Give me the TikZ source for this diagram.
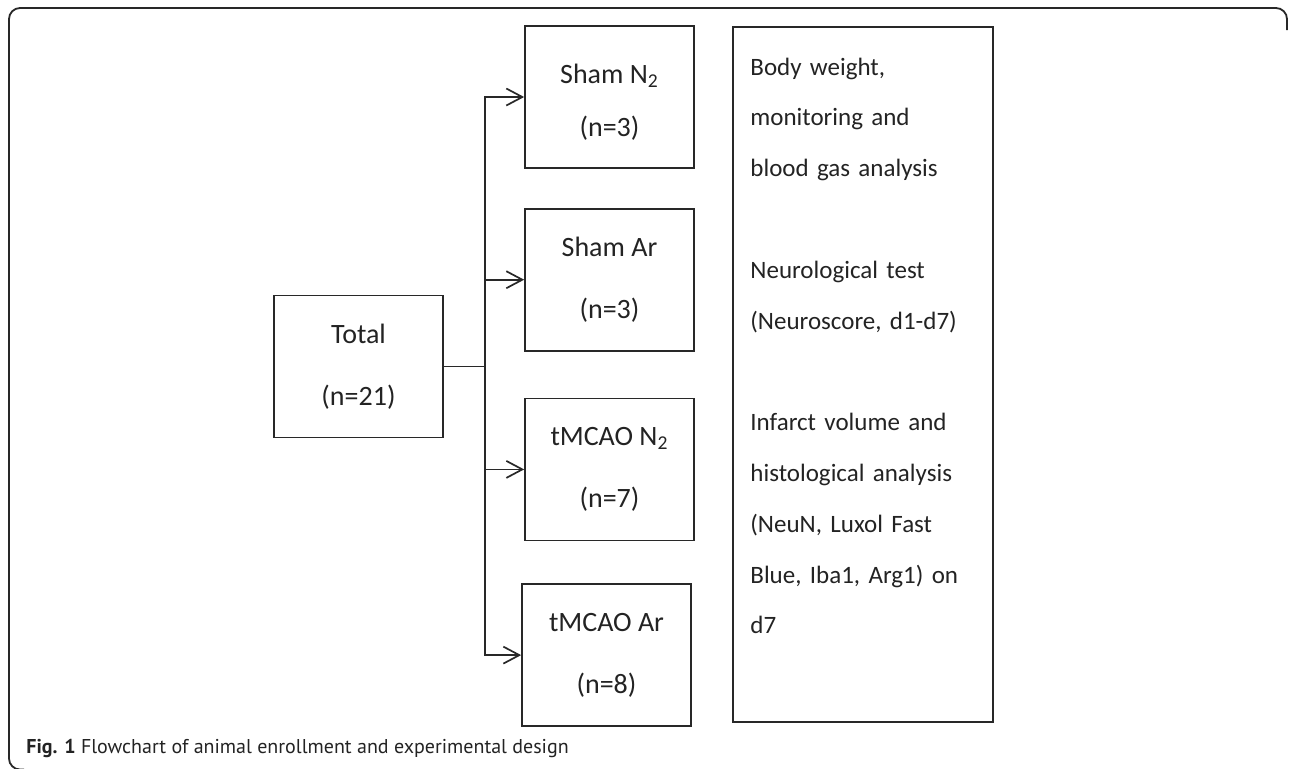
\documentclass[tikz,border=0pt]{standalone}
\usepackage{fontspec}
\setmainfont{Carlito}
\newfontfamily\capfont{PT Sans}
\usetikzlibrary{arrows.meta, positioning}
\definecolor{linegray}{RGB}{40,40,40}
\definecolor{textgray}{RGB}{35,35,35}

\begin{document}
\begin{tikzpicture}[x=0.5pt, y=-0.5pt,
    box/.style={draw=linegray, line width=0.85pt, minimum width=84.5pt, minimum height=71pt,
                inner sep=0pt, align=center, text=textgray, font=\fontsize{14}{31}\selectfont},
    panel/.style={draw=linegray, line width=0.85pt, minimum width=130pt, minimum height=347.5pt,
                  inner sep=0pt},
    arrow/.style={-{Straight Barb[length=8pt, width=8.5pt]}, line width=0.85pt, draw=linegray},
    frame/.style={draw=linegray, line width=0.9pt, rounded corners=5.5pt}
  ]
  \useasboundingbox (0,0) rectangle (1290,768);
  \draw[frame] (24,769.5) -- (9,769.5) -- (9,8) -- (1287,8) -- (1287,30);

  % groups
  \node[box] (total) at (358.5,366.5) {Total\\(n=21)};
  \node[box] (shamN) at (609.5,97) {\rule{0pt}{15pt}Sham N\textsubscript{2}\\[-4.5pt](n=3)};
  \node[box, below=19.5pt of shamN] (shamA) {Sham Ar\\(n=3)};
  \node[box, below=23pt of shamA] (tmcaoN) {tMCAO N\textsubscript{2}\\(n=7)};
  \node[box, below=21pt of tmcaoN, xshift=-1.5pt] (tmcaoA) {tMCAO Ar\\(n=8)};

  % measurements
  \node[panel, anchor=north west] (panel) at (732,26) {};
  \node[anchor=base west, inner sep=0pt, text width=122pt, align=left, text=textgray,
        font=\fontsize{12.5}{25.4}\selectfont] (measures)
        at ([shift={(18,49)}]panel.north west)
        {Body weight,\\monitoring and\\blood gas analysis\\~\\Neurological test\\
         (Neuroscore, d1-d7)\\~\\Infarct volume and\\histological analysis\\
         (NeuN, Luxol Fast\\Blue, Iba1, Arg1) on\\d7};

  \coordinate[xshift=20.5pt] (split) at (total.east);
  \draw[line width=0.85pt, draw=linegray] (total.east) -- (split);
  \foreach \g in {shamN, shamA, tmcaoN, tmcaoA}
    \draw[arrow] (split) |- (\g.west);

  \node[anchor=base west, inner sep=0pt, text=textgray,
        font=\capfont\fontsize{10}{12}\selectfont] (caption) at (26,753)
        {\textbf{Fig. 1} Flowchart of animal enrollment and experimental design};
\end{tikzpicture}
\end{document}
